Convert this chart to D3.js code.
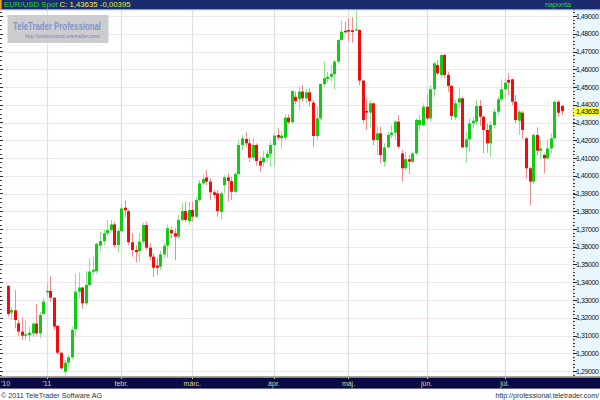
<!DOCTYPE html>
<html><head><meta charset="utf-8">
<script src="https://cdn.jsdelivr.net/npm/d3@7"></script>
<style>body{margin:0;background:#fff}svg{display:block}</style>
</head><body>
<script>
// ---- data (EUR/USD daily OHLC) ----
const openP = [1.3379,1.3229,1.3242,1.3169,1.3122,1.3099,1.3103,1.3112,1.3167,1.3112,
1.3221,1.3343,1.3351,1.3313,1.3154,1.3003,1.2896,1.2947,1.2977,1.3135,
1.3347,1.3370,1.3281,1.3385,1.3460,1.3463,1.3606,1.3632,1.3676,1.3694,
1.3726,1.3610,1.3689,1.3820,1.3801,1.3625,1.3582,1.3576,1.3629,1.3722,
1.3595,1.3544,1.3494,1.3488,1.3557,1.3606,1.3694,1.3676,1.3657,1.3751,
1.3801,1.3745,1.3807,1.3769,1.3863,1.3957,1.3991,1.3967,1.3907,1.3901,
1.3797,1.3948,1.3991,1.3970,1.3910,1.4010,1.4173,1.4207,1.4183,1.4102,
1.4173,1.4083,1.4076,1.4102,1.4124,1.4173,1.4230,1.4211,1.4215,1.4327,
1.4301,1.4445,1.4432,1.4474,1.4436,1.4470,1.4412,1.4224,1.4323,1.4517,
1.4545,1.4558,1.4573,1.4643,1.4765,1.4817,1.4821,1.4820,1.4818,1.4821,
1.4536,1.4365,1.4356,1.4408,1.4201,1.4239,1.4079,1.4160,1.4230,1.4243,
1.4305,1.4126,1.4042,1.4093,1.4079,1.4126,1.4286,1.4286,1.4389,1.4323,
1.4487,1.4624,1.4568,1.4680,1.4568,1.4506,1.4329,1.4412,1.4436,1.4160,
1.4205,1.4295,1.4305,1.4393,1.4333,1.4258,1.4183,1.4286,1.4361,1.4431,
1.4487,1.4540,1.4543,1.4417,1.4310,1.4355,1.4211,1.4042,1.3967,1.4230,
1.4141,1.4117,1.4098,1.4154,1.4211,1.4417,1.4393];
const highP = [1.3385,1.3262,1.3356,1.3187,1.3201,1.3187,1.3150,1.3178,1.3276,1.3234,
1.3313,1.3394,1.3435,1.3315,1.3160,1.3009,1.2962,1.2990,1.3150,1.3450,
1.3456,1.3375,1.3463,1.3535,1.3545,1.3625,1.3685,1.3694,1.3751,1.3751,
1.3741,1.3704,1.3839,1.3858,1.3807,1.3676,1.3610,1.3676,1.3735,1.3741,
1.3619,1.3563,1.3539,1.3576,1.3619,1.3722,1.3713,1.3704,1.3779,1.3845,
1.3854,1.3854,1.3854,1.3882,1.3976,1.4004,1.4032,1.3985,1.3920,1.3920,
1.3910,1.4004,1.4014,1.3995,1.4023,1.4201,1.4230,1.4245,1.4211,1.4215,
1.4183,1.4107,1.4139,1.4145,1.4192,1.4239,1.4267,1.4248,1.4346,1.4346,
1.4483,1.4474,1.4502,1.4511,1.4490,1.4490,1.4427,1.4389,1.4521,1.4643,
1.4586,1.4624,1.4652,1.4769,1.4874,1.4868,1.4887,1.4893,1.4930,1.4825,
1.4540,1.4436,1.4427,1.4412,1.4276,1.4276,1.4183,1.4248,1.4286,1.4314,
1.4342,1.4145,1.4136,1.4117,1.4136,1.4323,1.4342,1.4408,1.4455,1.4511,
1.4643,1.4652,1.4690,1.4690,1.4587,1.4511,1.4427,1.4493,1.4446,1.4248,
1.4323,1.4333,1.4427,1.4427,1.4337,1.4295,1.4305,1.4380,1.4446,1.4543,
1.4549,1.4577,1.4549,1.4455,1.4370,1.4367,1.4220,1.4051,1.4239,1.4273,
1.4201,1.4126,1.4205,1.4239,1.4427,1.4427,1.4399];
const lowP = [1.3206,1.3187,1.3140,1.3099,1.3075,1.3075,1.3065,1.3093,1.3103,1.3084,
1.3216,1.3319,1.3291,1.3131,1.2990,1.2909,1.2877,1.2924,1.2966,1.3093,
1.3309,1.3253,1.3272,1.3380,1.3440,1.3450,1.3576,1.3610,1.3666,1.3685,
1.3591,1.3569,1.3685,1.3764,1.3610,1.3544,1.3512,1.3516,1.3615,1.3582,
1.3525,1.3431,1.3441,1.3469,1.3538,1.3538,1.3648,1.3525,1.3648,1.3741,
1.3741,1.3723,1.3741,1.3760,1.3854,1.3948,1.3948,1.3863,1.3873,1.3769,
1.3756,1.3901,1.3854,1.3863,1.3901,1.4004,1.4145,1.4164,1.4076,1.4089,
1.4057,1.4023,1.4051,1.4079,1.4051,1.4057,1.4201,1.4151,1.4201,1.4290,
1.4295,1.4405,1.4371,1.4417,1.4410,1.4390,1.4164,1.4201,1.4314,1.4502,
1.4521,1.4530,1.4487,1.4633,1.4761,1.4802,1.4755,1.4750,1.4812,1.4511,
1.4299,1.4258,1.4267,1.4173,1.4117,1.4070,1.4051,1.4155,1.4211,1.4201,
1.4155,1.3967,1.4032,1.4010,1.4070,1.4117,1.4258,1.4276,1.4314,1.4305,
1.4445,1.4567,1.4549,1.4549,1.4474,1.4314,1.4314,1.4380,1.4154,1.4074,
1.4136,1.4267,1.4286,1.4280,1.4126,1.4130,1.4104,1.4267,1.4342,1.4417,
1.4436,1.4455,1.4399,1.4295,1.4230,1.4205,1.3985,1.3835,1.3954,1.4117,
1.4093,1.4014,1.4089,1.4126,1.4202,1.4333,1.4342];
const closeP = [1.3221,1.3242,1.3187,1.3122,1.3099,1.3107,1.3116,1.3167,1.3112,1.3216,
1.3291,1.3352,1.3313,1.3150,1.3003,1.2915,1.2947,1.2977,1.3131,1.3347,
1.3370,1.3281,1.3385,1.3460,1.3470,1.3616,1.3632,1.3676,1.3694,1.3726,
1.3610,1.3689,1.3816,1.3805,1.3625,1.3582,1.3569,1.3629,1.3722,1.3595,
1.3544,1.3482,1.3482,1.3557,1.3606,1.3704,1.3676,1.3657,1.3751,1.3801,
1.3751,1.3807,1.3769,1.3863,1.3957,1.3982,1.3967,1.3907,1.3892,1.3801,
1.3901,1.3991,1.3970,1.3910,1.4010,1.4173,1.4211,1.4183,1.4102,1.4173,
1.4083,1.4057,1.4102,1.4124,1.4173,1.4226,1.4215,1.4226,1.4327,1.4301,
1.4477,1.4421,1.4474,1.4436,1.4470,1.4420,1.4224,1.4323,1.4517,1.4549,
1.4558,1.4573,1.4643,1.4765,1.4812,1.4808,1.4812,1.4810,1.4825,1.4536,
1.4314,1.4356,1.4408,1.4201,1.4239,1.4117,1.4160,1.4230,1.4243,1.4305,
1.4164,1.4042,1.4093,1.4079,1.4126,1.4314,1.4314,1.4389,1.4323,1.4487,
1.4633,1.4577,1.4680,1.4568,1.4506,1.4337,1.4408,1.4436,1.4160,1.4205,
1.4295,1.4310,1.4393,1.4333,1.4258,1.4183,1.4286,1.4361,1.4431,1.4487,
1.4524,1.4524,1.4417,1.4314,1.4361,1.4258,1.4042,1.3967,1.4230,1.4141,
1.4154,1.4098,1.4154,1.4211,1.4417,1.4355,1.43635];
const firstDay = "2010-12-17";
const monthStarts = ["2011-01-03","2011-02-01","2011-03-01","2011-04-01","2011-05-02","2011-06-01","2011-07-01"];
const monthLabels = ["'11","febr.","márc.","ápr.","máj.","jún.","júl."];
const yTickValues = [1.29,1.30,1.31,1.32,1.33,1.34,1.35,1.36,1.37,1.38,1.39,1.40,1.41,1.42,1.43,1.44,1.45,1.46,1.47,1.48,1.49];
const lastClose = 1.43635;
const change = -0.00395;

// ---- trading-day categories (weekdays) ----
const parse = d3.timeParse("%Y-%m-%d"), fmt = d3.timeFormat("%Y-%m-%d");
const days = [];
for (let d = parse(firstDay); days.length < closeP.length; d = d3.timeDay.offset(d, 1)) {
  const wd = d.getDay(); if (wd !== 0 && wd !== 6) days.push(fmt(d));
}
const data = days.map((k, i) => ({k, o: openP[i], h: highP[i], l: lowP[i], c: closeP[i]}));

const W = 600, H = 400, plotL = 0, plotR = 573, plotT = 10, plotB = 376;
const FONT = "Liberation Sans, Arial, sans-serif";
const x = d3.scalePoint().domain(days).range([7.7, 561.5]);
const y = d3.scaleLinear().domain([1.29, 1.49]).range([371, 16]);
const numFmt = v => v.toFixed(5).replace(".", ",");

const svg = d3.select("body").append("svg").attr("width", W).attr("height", H)
  .style("font-family", FONT);
svg.append("rect").attr("width", W).attr("height", H).attr("fill", "#fff");

// horizontal grid
svg.append("g").selectAll("line").data(yTickValues).join("line")
  .attr("x1", plotL).attr("x2", plotR)
  .attr("y1", d => Math.round(y(d)) + 0.5).attr("y2", d => Math.round(y(d)) + 0.5)
  .attr("stroke", "#f0e6ef").attr("stroke-width", 1);

// vertical grid at month starts
svg.append("g").selectAll("line").data(monthStarts).join("line")
  .attr("x1", d => Math.round(x(d)) + 0.5).attr("x2", d => Math.round(x(d)) + 0.5)
  .attr("y1", plotT).attr("y2", plotB)
  .attr("stroke", "#e0e0e0").attr("stroke-width", 1.2);

// watermark
const wm = svg.append("g");
wm.append("rect").attr("x", 7.5).attr("y", 15).attr("width", 101).attr("height", 28).attr("fill", "#c8c8ca").attr("opacity", 0.9);
wm.append("text").attr("x", 13).attr("y", 30).attr("font-size", 10).attr("font-weight", "bold")
  .attr("fill", "#8494c8").attr("textLength", 88).attr("lengthAdjust", "spacingAndGlyphs").text("TeleTrader Professional");
wm.append("text").attr("x", 25).attr("y", 37.5).attr("font-size", 5).attr("fill", "#7585bd")
  .attr("textLength", 75).text("http://professional.teletrader.com/");

// left edge ticks
const leftTicks = d3.range(1.2875, 1.5, 0.0025);
svg.append("g").selectAll("line").data(leftTicks).join("line")
  .attr("x1", 0).attr("x2", (d, i) => i % 4 === 1 ? 3 : 1.8)
  .attr("y1", d => Math.round(y(d)) + 0.5).attr("y2", d => Math.round(y(d)) + 0.5)
  .attr("stroke", "#333").attr("stroke-width", 1);

// candles
const up = d => d.c >= d.o;
const cg = svg.append("g");
cg.selectAll("line").data(data).join("line")
  .attr("x1", d => Math.round(x(d.k)) + 0.5).attr("x2", d => Math.round(x(d.k)) + 0.5)
  .attr("y1", d => y(d.h)).attr("y2", d => y(d.l))
  .attr("stroke", d => up(d) ? "#8fe08f" : "#f28c8c").attr("stroke-width", 1);
cg.selectAll("rect").data(data).join("rect")
  .attr("x", d => Math.round(x(d.k)) - 1)
  .attr("width", 3)
  .attr("y", d => y(Math.max(d.o, d.c)))
  .attr("height", d => Math.max(1, Math.abs(y(d.o) - y(d.c))))
  .attr("fill", d => up(d) ? "#11cc11" : "#f20c0c");

// right axis panel
svg.append("rect").attr("x", plotR).attr("y", plotT).attr("width", W - plotR).attr("height", plotB - plotT).attr("fill", "#e9f6fd");
svg.append("line").attr("x1", plotR + 0.5).attr("x2", plotR + 0.5).attr("y1", plotT).attr("y2", plotB)
  .attr("stroke", "#d9cf86").attr("stroke-dasharray", "1,1");
const minor = d3.range(1.288, 1.4985, 0.002);
svg.append("g").selectAll("line").data(minor).join("line")
  .attr("x1", plotR).attr("x2", plotR + 2)
  .attr("y1", d => Math.round(y(d)) + 0.5).attr("y2", d => Math.round(y(d)) + 0.5)
  .attr("stroke", "#444");
svg.append("g").selectAll("line").data(yTickValues).join("line")
  .attr("x1", plotR).attr("x2", plotR + 4)
  .attr("y1", d => Math.round(y(d)) + 0.5).attr("y2", d => Math.round(y(d)) + 0.5)
  .attr("stroke", "#222");
svg.append("g").selectAll("text").data(yTickValues).join("text")
  .attr("x", 576).attr("y", d => y(d) + 2.5).attr("font-size", 7).attr("fill", "#111")
  .attr("textLength", 23).text(d => numFmt(d));
// current price marker
svg.append("rect").attr("x", 574).attr("y", y(lastClose) - 4).attr("width", 26).attr("height", 8.5).attr("fill", "#ffff22");
svg.append("text").attr("x", 576).attr("y", y(lastClose) + 2.6).attr("font-size", 7).attr("fill", "#000")
  .attr("textLength", 23).text(numFmt(lastClose));

// header
svg.append("rect").attr("x", 0).attr("y", 0).attr("width", W).attr("height", 9.5).attr("fill", "#1b2c6c");
svg.append("line").attr("x1", 0).attr("x2", W).attr("y1", 9.8).attr("y2", 9.8).attr("stroke", "#8ea4d8").attr("stroke-width", 0.8);
svg.append("rect").attr("x", 0).attr("y", 0).attr("width", 1.6).attr("height", 9.5).attr("fill", "#f0a020");
const ht = svg.append("text").attr("x", 4).attr("y", 7.3).attr("font-size", 7.8);
ht.append("tspan").attr("fill", "#22d822").text("EUR/USD Spot ");
ht.append("tspan").attr("fill", "#f2f23a").text("C: " + numFmt(lastClose) + " ");
ht.append("tspan").attr("fill", "#d8ec40").text(numFmt(change));
svg.append("text").attr("x", 571).attr("y", 7.3).attr("font-size", 7.2).attr("text-anchor", "end")
  .attr("fill", "#22d822").text("naponta");

// bottom axis band
svg.append("line").attr("x1", 0).attr("x2", W).attr("y1", 376.8).attr("y2", 376.8).attr("stroke", "#a9a99a").attr("stroke-width", 1.6);
svg.append("rect").attr("x", 0).attr("y", 377.6).attr("width", W).attr("height", 11).attr("fill", "#0a0a44");
svg.append("g").selectAll("line").data(monthStarts).join("line")
  .attr("x1", d => Math.round(x(d)) + 0.5).attr("x2", d => Math.round(x(d)) + 0.5)
  .attr("y1", 377.6).attr("y2", 379).attr("stroke", "#d8d090");
svg.append("g").selectAll("text").data(monthStarts).join("text")
  .attr("x", d => x(d)).attr("y", 386).attr("text-anchor", "middle")
  .attr("font-size", 7).attr("fill", "#dcd4a4").text((d, i) => monthLabels[i]);
svg.append("text").attr("x", 1).attr("y", 386).attr("font-size", 7).attr("fill", "#dcd4a4").text("'10");

// footer
svg.append("text").attr("x", 1).attr("y", 397.5).attr("font-size", 7.2).attr("fill", "#333").text("© 2011 TeleTrader Software AG");
svg.append("text").attr("x", 599).attr("y", 397.5).attr("font-size", 7).attr("text-anchor", "end").attr("fill", "#333").text("http://professional.teletrader.com/");
</script>
</body></html>
